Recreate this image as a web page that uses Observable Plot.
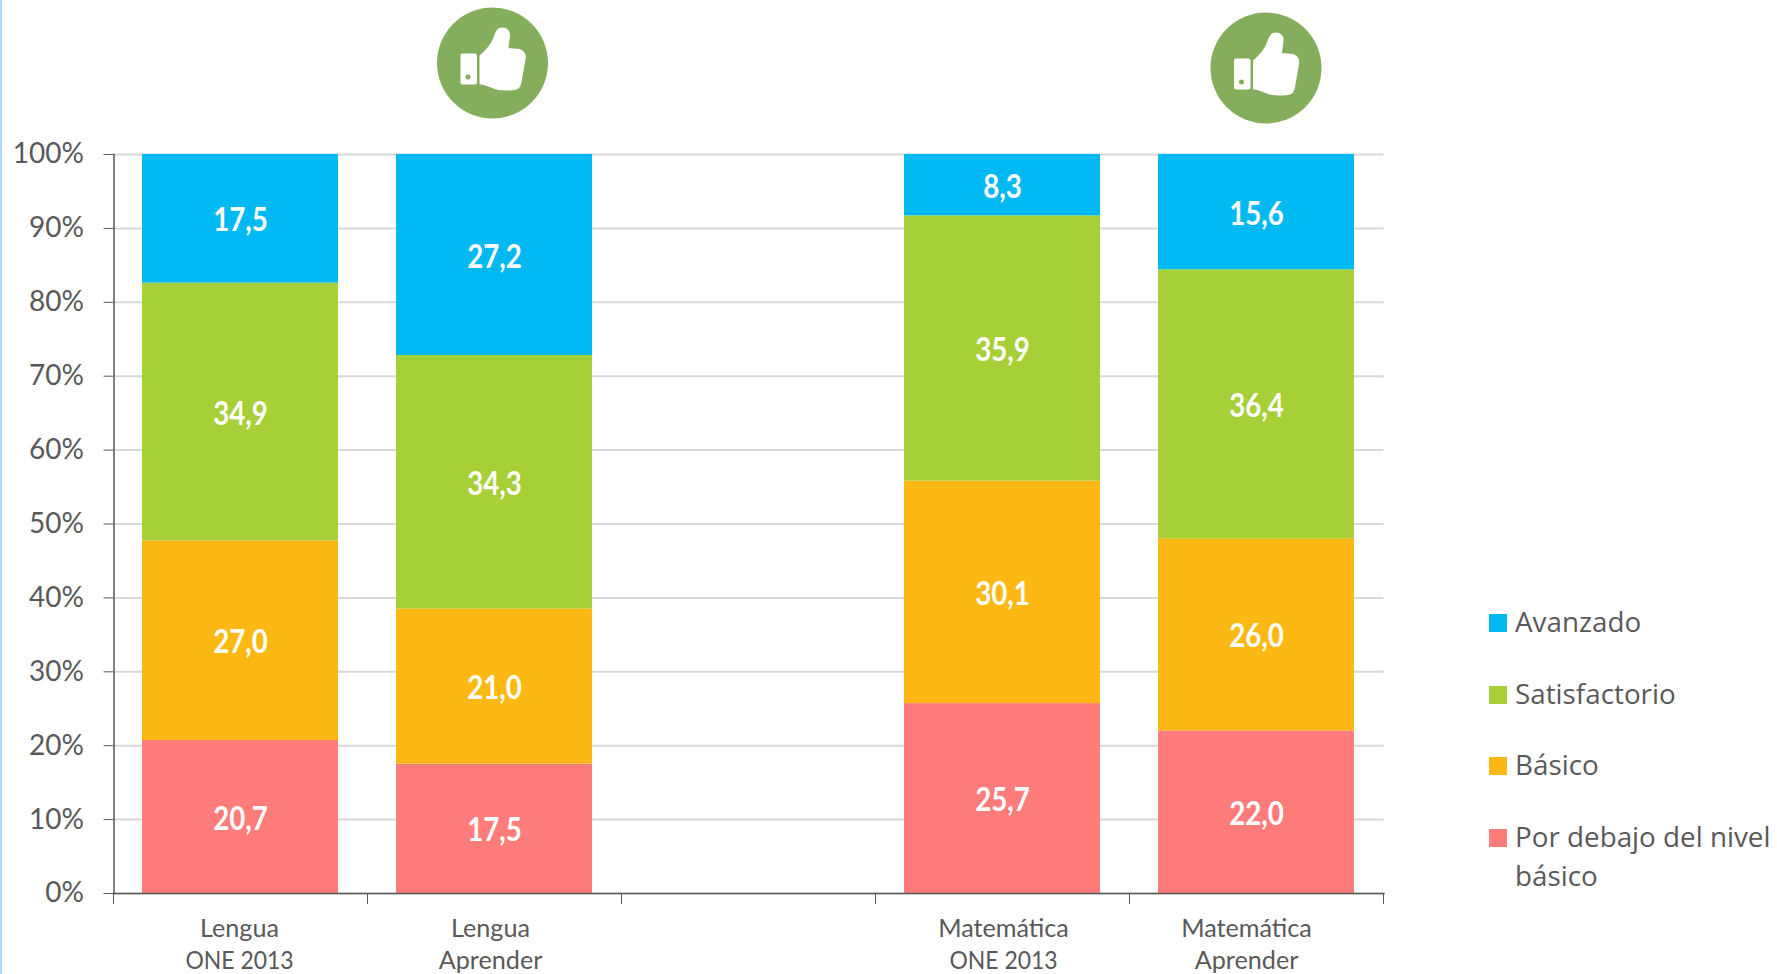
<!DOCTYPE html>
<html lang="es">
<head>
<meta charset="utf-8">
<script src="https://cdn.jsdelivr.net/npm/d3@7"></script>
<script src="https://cdn.jsdelivr.net/npm/@observablehq/plot@0.6"></script>
<style>
html,body{margin:0;padding:0;background:#fff;overflow:hidden;width:1777px;height:974px}
#wrap{position:relative;width:1777px;height:974px}
#wrap svg.main{position:absolute;left:0;top:0}
#edge{position:absolute;left:0;top:0;width:2px;height:974px;background:#abd9fb}
#icons{position:absolute;left:0;top:0;pointer-events:none}
.lg{position:absolute;left:1489px;font:27.8px/38.5px "Open Sans",sans-serif;color:#595959;width:285px}
.lg i{position:absolute;left:0;top:10px;width:18px;height:18px}
.lg span{display:block;margin-left:26px;position:relative;top:-2px}
</style>
</head>
<body>
<div id="wrap"><div id="edge"></div></div>
<script>
const categories = ["Lengua\nONE 2013", "Lengua\nAprender", " ", "Matemática\nONE 2013", "Matemática\nAprender"];
const levels = ["Por debajo del nivel básico", "Básico", "Satisfactorio", "Avanzado"];
const colors = ["#FF7C7A", "#FDB813", "#A7CF38", "#00B9F2"];
const porDebajo = [20.7, 17.5, null, 25.7, 22.0];
const basico = [27.0, 21.0, null, 30.1, 26.0];
const satisfactorio = [34.9, 34.3, null, 35.9, 36.4];
const avanzado = [17.5, 27.2, null, 8.3, 15.6];
const yTicks = [0, 10, 20, 30, 40, 50, 60, 70, 80, 90, 100];
const labelOffsets = [-1, -4, 0, 1, -10];
const ink = "#595959";

const series = [porDebajo, basico, satisfactorio, avanzado];
const rows = levels.flatMap((level, i) =>
  categories.map((c, j) => ({category: c, level, value: series[i][j]})).filter(d => d.value != null));
const fmt = v => v.toFixed(1).replace(".", ",");
const stack = {x: "category", y: "value", z: "level", order: levels};

const chart = Plot.plot({
  width: 1777, height: 974,
  marginLeft: 113.5, marginRight: 393.5, marginTop: 154, marginBottom: 81,
  style: {background: "transparent", overflow: "visible"},
  x: {domain: categories, paddingInner: 0.228, paddingOuter: 0.114, label: null},
  y: {domain: [0, 100], clamp: true, label: null},
  color: {domain: levels, range: colors},
  marks: [
    Plot.gridY(yTicks, {stroke: "#D9D9D9", strokeOpacity: 1, strokeWidth: 2}),
    Plot.barY(rows, Plot.stackY({...stack, fill: "level"})),
    Plot.text(rows, Plot.stackY({...stack, text: d => fmt(d.value), fill: "#fff", dy: 2,
      fontFamily: "Lato", fontWeight: 700, fontSize: 33, ariaLabel: "value"})),
    Plot.frame({anchor: "left", stroke: ink, strokeWidth: 1.5}),
    Plot.frame({anchor: "bottom", stroke: ink, strokeWidth: 1.5}),
    Plot.axisY(yTicks, {tickSize: 10, tickPadding: 20, stroke: ink, color: ink,
      tickFormat: d => d + "%", fontFamily: "Lato", fontSize: 28, label: null}),
    Plot.axisX({ticks: categories, tickSize: 11, dx: -127, tickFormat: null, stroke: ink, label: null}),
    Plot.axisX({ticks: categories.slice(-1), tickSize: 11, dx: 127, tickFormat: null, stroke: ink, label: null}),
    ...categories.map((c, i) => Plot.text([c], {x: d => d, y: () => 0, text: d => d, dx: labelOffsets[i], dy: 49,
      lineHeight: 1.28, fill: ink, fontFamily: "Lato", fontSize: 25.2, lineAnchor: "middle"}))
  ]
});
chart.classList.add("main");
const wrap = document.getElementById("wrap");
wrap.appendChild(chart);

// condense the in-bar values and the numeric lines of the axis labels
chart.querySelectorAll("text").forEach(t => {
  const s = t.textContent;
  if (/^\d+,\d$/.test(s)) {
    t.setAttribute("textLength", (t.getComputedTextLength() * 0.84).toFixed(1));
    t.setAttribute("lengthAdjust", "spacingAndGlyphs");
  }
  t.querySelectorAll("tspan").forEach(ts => {
    if (ts.textContent === "ONE 2013") {
      ts.setAttribute("textLength", (ts.getComputedTextLength() * 0.91).toFixed(1));
      ts.setAttribute("lengthAdjust", "spacingAndGlyphs");
    }
  });
});

// thumbs-up badges
const thumbCenters = [[492.5, 63], [1266, 68]];
const icons = d3.select(wrap).append("svg").attr("id", "icons").attr("width", 1777).attr("height", 974);
for (const [cx, cy] of thumbCenters) {
  const g = icons.append("g").attr("transform", `translate(${cx},${cy})`);
  g.append("circle").attr("r", 55.5).attr("fill", "#84AE5C");
  g.append("rect").attr("x", -32).attr("y", -9.5).attr("width", 16.5).attr("height", 31).attr("rx", 2).attr("fill", "#fff");
  g.append("circle").attr("cx", -24.5).attr("cy", 14).attr("r", 2.5).attr("fill", "#84AE5C");
  g.append("path").attr("fill", "#fff").attr("stroke", "#fff").attr("stroke-width", 2).attr("stroke-linejoin", "round")
    .attr("d", "M-12,-7 C-6,-12 -2,-16 1,-23 C3,-27 4,-33 7,-34 C13,-36 17,-32 16.5,-27 C16,-22 15,-18 15,-14 L27,-13 C31,-12 33,-8 32,-4 C31,2 30,8 29,13 C28,19 28,25 22,26 C15,27 7,26.5 2,25 C-3,23 -7,21 -12,20.5 Z");
}

// legend
const legendRows = [["Avanzado", 604], ["Satisfactorio", 676], ["Básico", 747], ["Por debajo del nivel básico", 819]];
for (const [name, top] of legendRows) {
  const el = document.createElement("div");
  el.className = "lg";
  el.style.top = top + "px";
  const sw = document.createElement("i");
  sw.style.background = colors[levels.indexOf(name)];
  const s = document.createElement("span");
  s.textContent = name;
  el.append(sw, s);
  wrap.appendChild(el);
}
</script>
</body>
</html>
